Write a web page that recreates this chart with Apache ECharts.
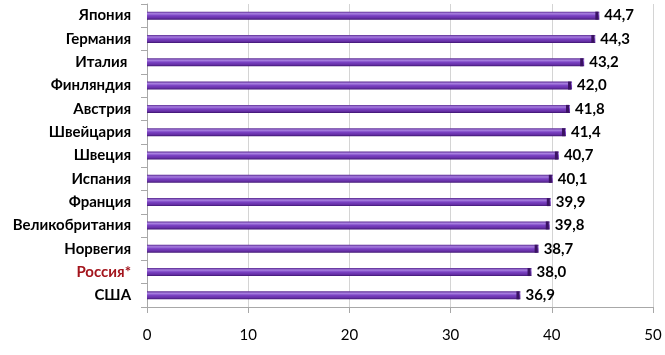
<!DOCTYPE html>
<html>
<head>
<meta charset="utf-8">
<script src="https://cdn.jsdelivr.net/npm/echarts@6/dist/echarts.min.js"></script>
<style>
  html, body { margin: 0; padding: 0; background: #fff; }
</style>
</head>
<body>
<div id="myChart" style="width: 665px; height: 355px"></div>
<script>
// data, top to bottom as in the picture
const countries = ["Япония", "Германия", "Италия ", "Финляндия", "Австрия", "Швейцария", "Швеция",
  "Испания", "Франция", "Великобритания", "Норвегия", "Россия*", "США"];
const ages = [44.7, 44.3, 43.2, 42.0, 41.8, 41.4, 40.7, 40.1, 39.9, 39.8, 38.7, 38.0, 36.9];
const xTicks = [0, 10, 20, 30, 40, 50];

const myEcharts = echarts.init(document.getElementById("myChart"));

// category axis goes bottom-up, so reverse
const cats = countries.slice().reverse();
const vals = ages.slice().reverse();

const barColor = new echarts.graphic.LinearGradient(0, 0, 0, 1, [
  { offset: 0, color: "#5a2a92" },
  { offset: 0.25, color: "#a880e0" },
  { offset: 0.5, color: "#7b42c4" },
  { offset: 0.8, color: "#6630a6" },
  { offset: 1, color: "#3e1470" },
]);

let option = {
  animation: false,
  grid: { left: 147, right: 12, top: 4, bottom: 48 },
  xAxis: {
    type: "value",
    min: xTicks[0],
    max: xTicks[xTicks.length - 1],
    interval: 10,
    axisLine: { show: true, lineStyle: { color: "#a8a8a8" } },
    axisTick: { show: true, length: 6, lineStyle: { color: "#a8a8a8" } },
    axisLabel: {
      margin: 21,
      color: "#000",
      fontFamily: "Lato",
      fontSize: 15,
    },
    splitLine: { show: true, lineStyle: { color: "#d4d4d4" } },
  },
  yAxis: {
    type: "category",
    data: cats,
    axisLine: { show: true, lineStyle: { color: "#a8a8a8" } },
    axisTick: { show: true, length: 6, lineStyle: { color: "#a8a8a8" } },
    axisLabel: {
      margin: 16,
      fontFamily: "Lato",
      fontWeight: "bold",
      fontSize: 15,
      color: function (v) {
        return v === "Россия*" ? "#a3141c" : "#000";
      },
    },
  },
  series: [
    {
      type: "bar",
      data: vals,
      barWidth: 8,
      itemStyle: { color: barColor },
      label: {
        show: true,
        position: "right",
        distance: 5,
        color: "#000",
        fontFamily: "Lato",
        fontWeight: "bold",
        fontSize: 15,
        formatter: (p) => p.value.toFixed(1).replace(".", ","),
      },
      z: 2,
    },
    {
      // dark end cap of the cylinder
      type: "pictorialBar",
      data: vals,
      symbol: "rect",
      symbolSize: [3, 8],
      symbolPosition: "end",
      symbolOffset: [-1, 0],
      itemStyle: { color: "#3a1262" },
      z: 3,
    },
  ],
};
myEcharts.setOption(option);
</script>
</body>
</html>
